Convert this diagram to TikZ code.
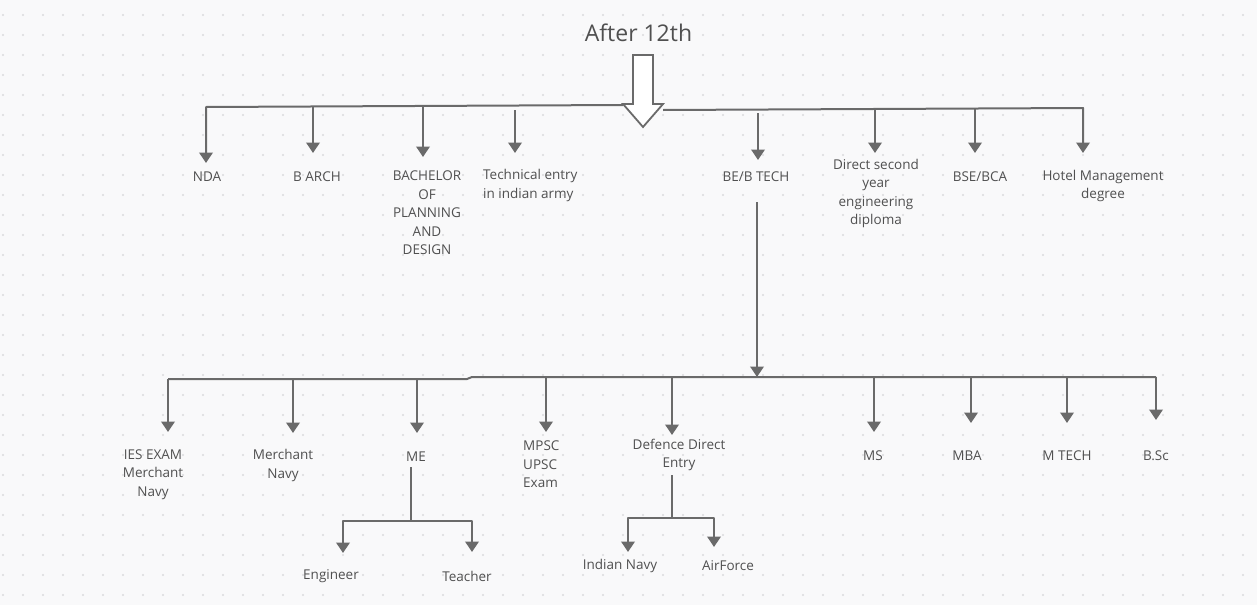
\documentclass[tikz,border=0pt]{standalone}
\usepackage{fontspec}
\setmainfont{Open Sans}
\usetikzlibrary{arrows.meta}
\definecolor{bg}{HTML}{F9F9FA}
\definecolor{ln}{HTML}{6A6A6A}
\definecolor{tx}{HTML}{505050}
\definecolor{dotc}{HTML}{DADADD}
\begin{document}
\begin{tikzpicture}[x=1pt,y=-1pt,
  lbl/.style={font=\fontsize{13.5}{18.5}\selectfont, text=tx, align=center, inner sep=0pt},
  ttl/.style={font=\fontsize{23}{27}\selectfont, text=tx, inner sep=0pt},
  conn/.style={draw=ln, line width=2pt, line join=round},
  arr/.style={conn, -{Triangle[width=13.5pt,length=10.5pt]}},
  bigarrow/.style={draw=ln, line width=1.8pt, fill=white, line join=miter}]
% background and dot grid
\fill[bg] (0,0) rectangle (1257,605);
\useasboundingbox (0,0) rectangle (1257,605);
\foreach \i in {0,...,62}{\foreach \j in {0,...,29}{\fill[dotc] (3+20*\i,15+20*\j) circle (1.1pt);}}

% title and hollow arrow
\node[ttl] (after) at (638.5,33) {After 12th};
\draw[bigarrow] (633,55) -- (653,55) -- (653,104) -- (663,104) -- (643,127) -- (623,104) -- (633,104) -- cycle;
\coordinate (hl) at (623,105);
\coordinate (hr) at (663,110);

% first level labels
\node[lbl] (nda) at (207,177) {NDA};
\node[lbl] (barch) at (317,177) {B ARCH};
\node[lbl] (bpd) at (427,213) {BACHELOR\\OF\\PLANNING\\AND\\DESIGN};
\node[lbl, align=left, anchor=west] (tech) at (483,185.5) {Technical entry\\in indian army};
\node[lbl] (be) at (756,177) {BE/B TECH};
\node[lbl] (dsy) at (876,193.5) {Direct second\\year\\engineering\\diploma};
\node[lbl] (bse) at (980,177) {BSE/BCA};
\node[lbl] (hotel) at (1103,186) {Hotel Management\\degree};

% first level coordinates
\coordinate (cNDA) at (206,107);  \coordinate (tNDA) at (206,163);
\coordinate (sBA) at (313,107);   \coordinate (tBA) at (313,153);
\coordinate (sBP) at (423,106);   \coordinate (tBP) at (423,157);
\coordinate (sTE) at (515,110);   \coordinate (tTE) at (515,153);
\coordinate (sBE) at (758,113);   \coordinate (tBE) at (758,160);
\coordinate (sDS) at (875,110);   \coordinate (tDS) at (875,153);
\coordinate (sBS) at (975,109);   \coordinate (tBS) at (975,153);
\coordinate (cHM) at (1083,108);  \coordinate (tHM) at (1083,153);

\draw[arr] (hl) -- (cNDA) -- (tNDA);
\draw[arr] (hr) -- (cHM) -- (tHM);
\draw[arr] (sBA) -- (tBA);
\draw[arr] (sBP) -- (tBP);
\draw[arr] (sTE) -- (tTE);
\draw[arr] (sBE) -- (tBE);
\draw[arr] (sDS) -- (tDS);
\draw[arr] (sBS) -- (tBS);

% BE/B TECH down to second bar
\coordinate (beS) at (757,202);
\coordinate (beT) at (757,377);
\draw[arr] (beS) -- (beT);

% second level labels
\node[lbl] (ies) at (153,474.5) {IES EXAM\\Merchant\\Navy};
\node[lbl] (merch) at (283,465.5) {Merchant\\Navy};
\node[lbl] (me) at (416,457) {ME};
\node[lbl, align=left, anchor=west] (mpsc) at (523,464.5) {MPSC\\UPSC\\Exam};
\node[lbl] (def) at (679,455) {Defence Direct\\Entry};
\node[lbl] (ms) at (873,456) {MS};
\node[lbl] (mba) at (967,456) {MBA};
\node[lbl] (mtech) at (1067,456) {M TECH};
\node[lbl] (bsc) at (1156,456) {B.Sc};

% second level coordinates
\coordinate (cIES) at (168,379);  \coordinate (tIES) at (168,432);
\coordinate (kink) at (467,379);  \coordinate (kink2) at (472,377);
\coordinate (cBSC) at (1156,377); \coordinate (tBSC) at (1156,420);
\coordinate (sMN) at (293,379);   \coordinate (tMN) at (293,433);
\coordinate (sME) at (417,379);   \coordinate (tME) at (417,433);
\coordinate (sMP) at (546,377);   \coordinate (tMP) at (546,432);
\coordinate (sDF) at (672,377);   \coordinate (tDF) at (672,435);
\coordinate (sMS) at (874,377);   \coordinate (tMS) at (874,432);
\coordinate (sMB) at (971,377);   \coordinate (tMB) at (971,423);
\coordinate (sMT) at (1067,377);  \coordinate (tMT) at (1067,423);

\draw[arr] (cIES) -- (tIES);
\draw[conn] (cIES) -- (kink) -- (kink2) -- (cBSC);
\draw[arr] (cBSC) -- (tBSC);
\draw[arr] (sMN) -- (tMN);
\draw[arr] (sME) -- (tME);
\draw[arr] (sMP) -- (tMP);
\draw[arr] (sDF) -- (tDF);
\draw[arr] (sMS) -- (tMS);
\draw[arr] (sMB) -- (tMB);
\draw[arr] (sMT) -- (tMT);

% third level
\node[lbl] (eng) at (331,576) {Engineer};
\node[lbl] (teach) at (467,576) {Teacher};
\node[lbl] (navy) at (620,566) {Indian Navy};
\node[lbl] (af) at (728,566) {AirForce};

\coordinate (meS) at (411,467);  \coordinate (meJ) at (411,521);
\coordinate (engC) at (343,521); \coordinate (engT) at (343,553);
\coordinate (teaC) at (472,521); \coordinate (teaT) at (472,552);
\draw[conn] (meS) -- (meJ);
\draw[arr] (meJ) -- (engC) -- (engT);
\draw[arr] (meJ) -- (teaC) -- (teaT);

\coordinate (dfS) at (672,475);  \coordinate (dfJ) at (672,518);
\coordinate (nvC) at (628,518);  \coordinate (nvT) at (628,552);
\coordinate (afC) at (714,518);  \coordinate (afT) at (714,547);
\draw[conn] (dfS) -- (dfJ);
\draw[arr] (dfJ) -- (nvC) -- (nvT);
\draw[arr] (dfJ) -- (afC) -- (afT);
\end{tikzpicture}
\end{document}
